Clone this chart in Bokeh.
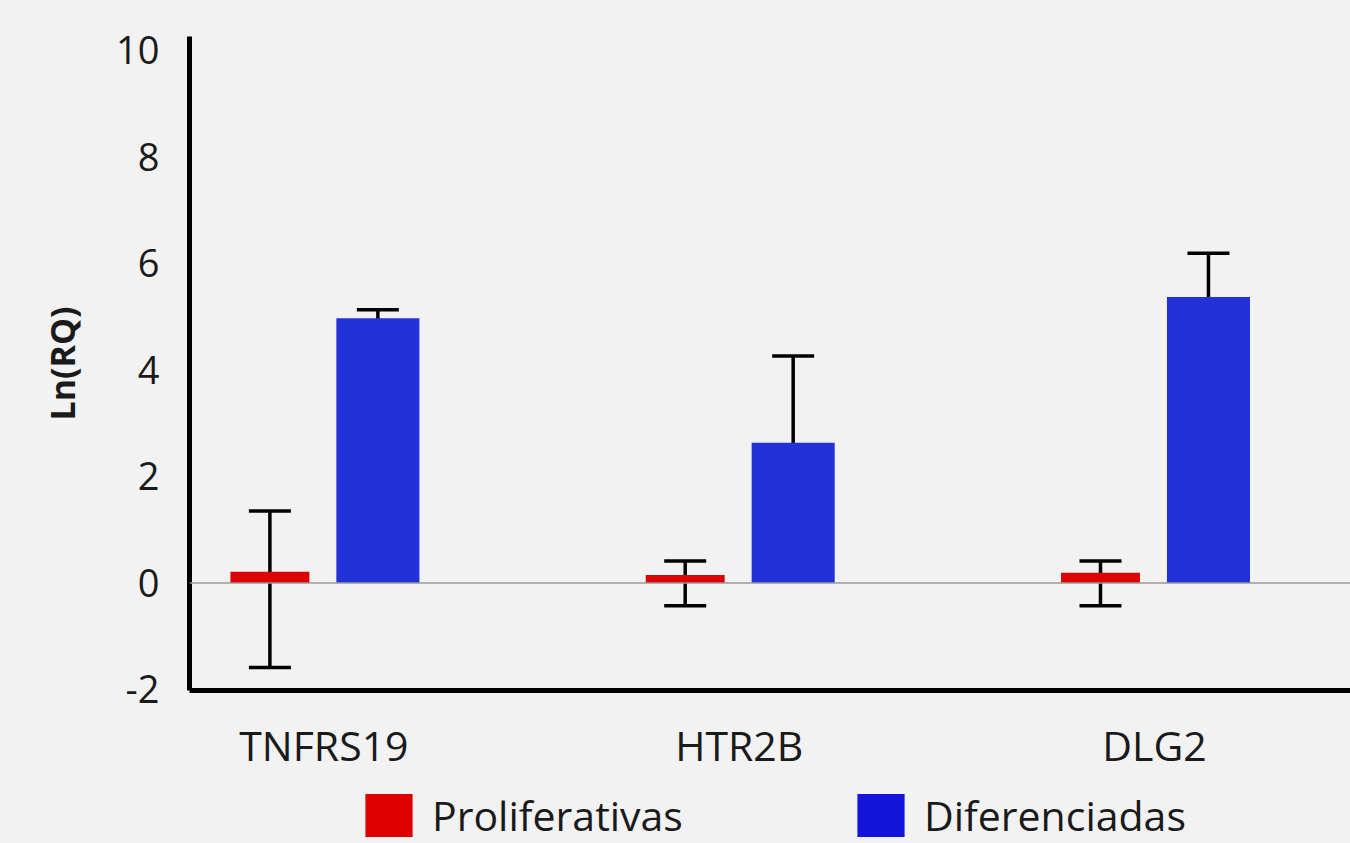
from bokeh.plotting import figure
from bokeh.layouts import column
from bokeh.models import (ColumnDataSource, Whisker, TeeHead, Span, FixedTicker,
                          Legend, LegendItem, Range1d)
from bokeh.embed import file_html
from bokeh.resources import INLINE

# ---- data ----
genes = ["TNFRS19", "HTR2B", "DLG2"]
series = ["Proliferativas", "Diferenciadas"]
prolif = [0.21, 0.15, 0.19]
prolif_lo = [-1.59, -0.43, -0.43]
prolif_hi = [1.35, 0.41, 0.41]
difer = [4.97, 2.63, 5.37]
difer_lo = [4.86, 1.03, 4.73]
difer_hi = [5.13, 4.26, 6.19]
y_ticks = [-2, 0, 2, 4, 6, 8, 10]

# ---- style constants ----
BG = "#f2f2f2"
RED = "#dc0000"
BLUE = "#2232d8"
FONT = "Open Sans"
OFF = 0.13

idx = list(range(len(genes)))
src_r = ColumnDataSource(dict(x=[i - OFF for i in idx], v=prolif, lo=prolif_lo, hi=prolif_hi))
src_b = ColumnDataSource(dict(x=[i + OFF for i in idx], v=difer, lo=difer_lo, hi=difer_hi))

p = figure(width=1350, height=775, output_backend="svg", toolbar_location=None,
           x_range=Range1d(-0.3236, 2.472), y_range=Range1d(-2.02, 10.26),
           min_border_left=189, min_border_right=0, min_border_top=36, min_border_bottom=82)
p.background_fill_color = BG
p.border_fill_color = BG
p.outline_line_color = None
p.grid.visible = False

p.add_layout(Span(location=0, dimension="width", line_color="#9a9a9a", line_width=1.5))

r_red = p.vbar(x="x", top="v", bottom=0, width=0.19, source=src_r, fill_color=RED, line_color=None)
r_blue = p.vbar(x="x", top="v", bottom=0, width=0.2, source=src_b, fill_color=BLUE, line_color=None)

for src in (src_r, src_b):
    p.add_layout(Whisker(source=src, base="x", lower="lo", upper="hi", line_color="black", line_width=3.5,
                         upper_head=TeeHead(size=42, line_width=3.5, line_color="black"),
                         lower_head=TeeHead(size=42, line_width=3.5, line_color="black")))

# axes
p.yaxis.ticker = FixedTicker(ticks=y_ticks)
p.yaxis.major_label_overrides = {t: str(t) for t in y_ticks}
p.yaxis.axis_line_width = 5
p.yaxis.axis_line_color = "black"
p.yaxis.major_tick_line_color = None
p.yaxis.minor_tick_line_color = None
p.yaxis.major_label_text_font = FONT
p.yaxis.major_label_text_font_size = "38px"
p.yaxis.major_label_text_color = "#1a1a1a"
p.yaxis.major_label_standoff = 24
p.yaxis.axis_label = "Ln(RQ)"
p.yaxis.axis_label_text_font = FONT
p.yaxis.axis_label_text_font_style = "bold"
p.yaxis.axis_label_text_font_size = "34px"
p.yaxis.axis_label_text_color = "#1a1a1a"
p.yaxis.axis_label_standoff = 28

p.xaxis.ticker = FixedTicker(ticks=idx)
p.xaxis.major_label_overrides = {i: g for i, g in zip(idx, genes)}
p.xaxis.axis_line_width = 5
p.xaxis.axis_line_color = "black"
p.xaxis.major_tick_line_color = None
p.xaxis.minor_tick_line_color = None
p.xaxis.major_label_text_font = FONT
p.xaxis.major_label_text_font_size = "41px"
p.xaxis.major_label_text_color = "#1a1a1a"
p.xaxis.major_label_standoff = 20

# legend strip below the chart (proxies share the series data, hidden)
q = figure(width=1350, height=68, output_backend="svg", toolbar_location=None,
           x_range=Range1d(0, 1), y_range=Range1d(0, 1),
           x_axis_location=None, y_axis_location=None,
           min_border_left=0, min_border_right=0, min_border_top=0, min_border_bottom=0)
q.background_fill_color = BG
q.border_fill_color = BG
q.outline_line_color = None
q.grid.visible = False
lr = q.vbar(x="x", top="v", width=0.1, source=src_r, fill_color=RED, line_color=None, visible=False)
lb = q.vbar(x="x", top="v", width=0.1, source=src_b, fill_color="#1414dc", line_color=None, visible=False)
legend = Legend(items=[LegendItem(label=series[0], renderers=[lr]),
                       LegendItem(label=series[1], renderers=[lb])],
                location=(170, 0), orientation="horizontal", spacing=168,
                glyph_width=59, glyph_height=54, label_standoff=14, padding=0, margin=0,
                border_line_alpha=0, background_fill_alpha=0, inactive_fill_alpha=0,
                label_text_font=FONT, label_text_font_size="41px", label_text_color="#1a1a1a")
q.add_layout(legend)

tmpl = '{% block preamble %}<style>body{background:#f2f2f2;}</style>{% endblock %}'
open("out.html", "w").write(file_html(column(p, q, spacing=0), INLINE, template=tmpl))
